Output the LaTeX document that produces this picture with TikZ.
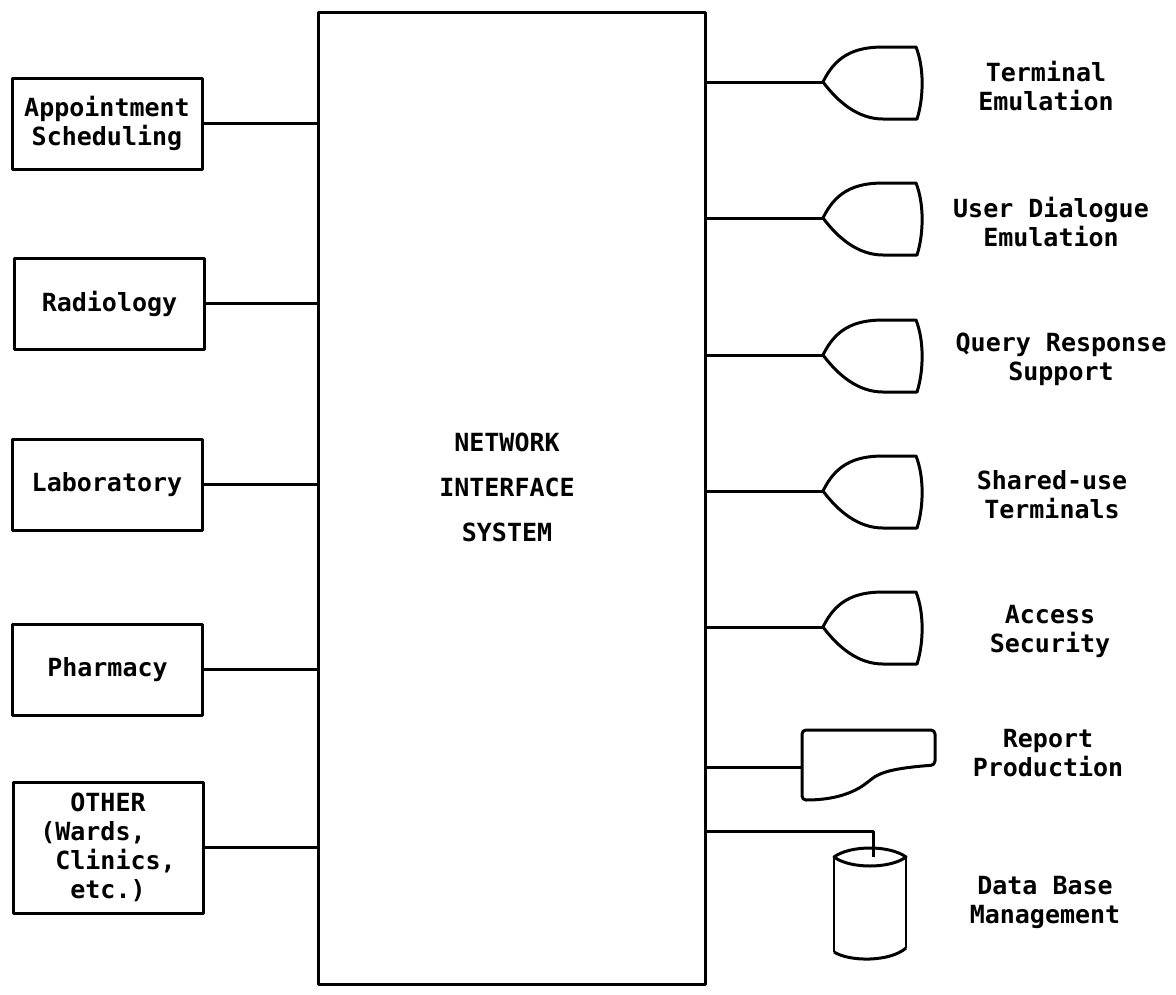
\documentclass[tikz,border=0pt]{standalone}
\usepackage{fontspec}
\setmainfont{DejaVu Sans Mono}

\begin{document}
\begin{tikzpicture}[x=1pt,y=-1pt,line width=3pt,line join=round]
    \tikzstyle{every node}=[font=\fontsize{25}{29}\selectfont\bfseries]
    \tikzstyle{module}=[draw,minimum width=190pt,minimum height=91pt,inner sep=0pt,align=center]
    \tikzstyle{system}=[draw,minimum width=387pt,minimum height=972pt,inner sep=0pt]
    \tikzstyle{annot}=[align=center,inner sep=0pt]
    \tikzset{terminal/.pic={
        \coordinate (-apex) at (0,0);
        \draw (0,0) .. controls (12,-25) and (30,-35) .. (60,-35) -- (93,-35)
              .. controls (101,-15) and (101,15) .. (94,37) -- (60,37)
              .. controls (35,37) and (15,20) .. (0,0);
    }}

    \useasboundingbox (0,0) rectangle (1176,994);

    % Draw the network interface system
    \node[system] (NIS) at (511.5,498) {};
    \node[annot,font=\fontsize{25}{45}\selectfont\bfseries] (NIS-label) at (507,487) {NETWORK\\INTERFACE\\SYSTEM};

    % Draw the application modules
    \foreach \name / \x / \y / \txt in {A/107/123.5/{Appointment\\Scheduling},
        R/109.5/303.5/Radiology, L/107/484.5/Laboratory, P/107.5/669.5/Pharmacy}
        \node[module] (M-\name) at (\x,\y) {\txt};
    \node[module,minimum height=131pt,align=left] (M-O) at (108,847.5)
        {\phantom{xx}OTHER\\(Wards,\\\phantom{x}Clinics,\\\phantom{xx}etc.)};

    % Connect every module with the system
    \foreach \name in {A,R,L,P,O}
        \draw (M-\name.east) -- (M-\name.east -| NIS.west);

    % Draw the terminal services and connect them with the system
    \foreach \name / \y / \x / \txt in {1/82/1046/{Terminal\\Emulation},
        2/218/1051/{User Dialogue\\Emulation}, 3/355/1061/{Query Response\\Support},
        4/491/1052/{Shared-use\\Terminals}, 5/627/1050/{Access\\Security}}
    {
        \pic (T-\name) at (823,\y) {terminal};
        \draw (T-\name-apex -| NIS.east) -- (T-\name-apex);
        \node[annot] (S-\name) at (\x,\y+4) {\txt};
    }

    % Draw the report production output
    \coordinate (RP) at (802,767);
    \draw[rounded corners=4pt] (802,765) -- (802,730) -- (935,730) -- (935,765)
        .. controls (895,768) and (880,772) .. (868,782)
        .. controls (850,795) and (830,800) .. (802,800) -- cycle;
    \draw (RP -| NIS.east) -- (RP);
    \node[annot] (S-6) at (1048,753) {Report\\Production};

    % Draw the data base
    \coordinate (DB) at (873,857);
    \coordinate (DB-tap) at (873,831);
    \draw (834,857) .. controls (850,845) and (890,845) .. (906,857)
        .. controls (890,869) and (850,869) .. (834,857) -- cycle;
    \draw[line width=2pt] (834,857) -- (834,952);
    \draw[line width=2pt] (906,857) -- (906,948);
    \draw (834,952) .. controls (850,962) and (890,962) .. (906,948);
    \draw (DB-tap -| NIS.east) -| (DB);
    \node[annot] (S-7) at (1045,902) {Data Base\\Management};
\end{tikzpicture}
\end{document}
